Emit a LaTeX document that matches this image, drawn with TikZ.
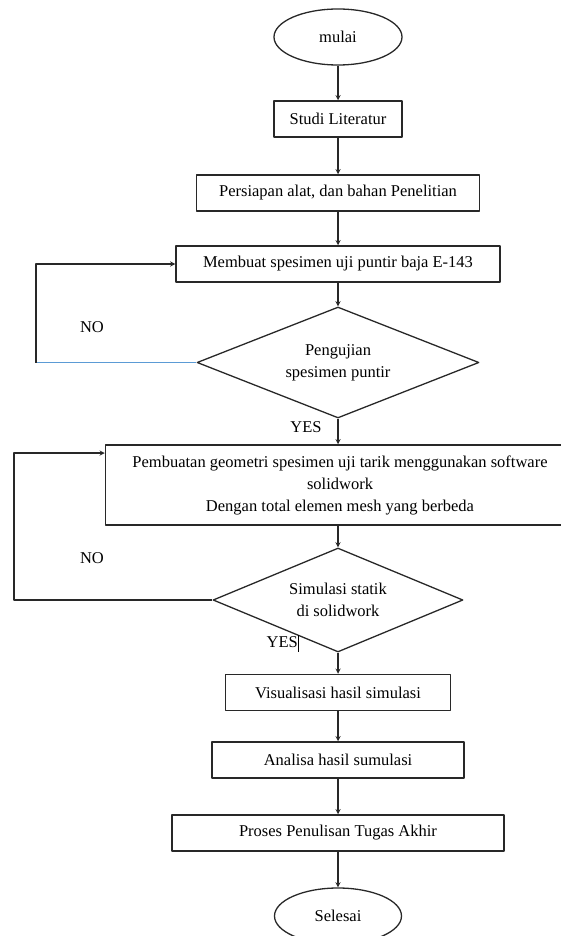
\documentclass[tikz,border=0pt]{standalone}
\usepackage{fontspec}
\setmainfont{Liberation Serif}
\usetikzlibrary{shapes.geometric}

\definecolor{garisbiru}{RGB}{91,155,213}
\definecolor{garis}{RGB}{40,40,40}

\tikzset{
  terminal/.style={ellipse, draw=garis, line width=1.3pt, minimum width=128, minimum height=56, inner sep=0pt},
  proses/.style={rectangle, draw=garis, line width=1.5pt, minimum height=36, inner sep=2pt},
  keputusan/.style={diamond, draw=garis, line width=1.3pt, aspect=2.5, inner sep=0pt, align=center},
  panah/.style={->, draw=garis, line width=1.3pt},
}

\begin{document}
\begin{tikzpicture}[x=1pt, y=-1pt, >=stealth, line join=round,
  every node/.style={font=\fontsize{16.5}{22}\selectfont}]
    % ukuran gambar
    \useasboundingbox (0,0) rectangle (561,936);

    % alur utama
    \node[terminal] (mulai) at (338,37) {mulai};
    \node[proses, minimum width=128] (studi) at (338,119) {Studi Literatur};
    \node[proses, minimum width=283] (persiapan) at (338,193) {Persiapan alat, dan bahan Penelitian};
    \node[proses, minimum width=324] (membuat) at (338,264) {Membuat spesimen uji puntir baja E-143};
    \node[keputusan, minimum width=282, minimum height=111] (pengujian) at (338,362.5) {Pengujian\\spesimen puntir};
    \node[proses, minimum width=469, minimum height=80, align=center] (geometri) at (340,485)
        {Pembuatan geometri spesimen uji tarik menggunakan software\\solidwork\\Dengan total elemen mesh yang berbeda};
    \node[keputusan, minimum width=250, minimum height=104] (simulasi) at (338,600) {Simulasi statik\\di solidwork};
    \node[proses, minimum width=225] (visual) at (338,692.5) {Visualisasi hasil simulasi};
    \node[proses, minimum width=252] (analisa) at (338,760) {Analisa hasil sumulasi};
    \node[proses, minimum width=332] (penulisan) at (338,833) {Proses Penulisan Tugas Akhir};
    \node[terminal, minimum width=127] (selesai) at (338,916) {Selesai};

    % panah ke bawah
    \draw[panah] (mulai) -- (studi);
    \draw[panah] (studi) -- (persiapan);
    \draw[panah] (persiapan) -- (membuat);
    \draw[panah] (membuat) -- (pengujian);
    \draw[panah] (pengujian) -- (geometri.north -| pengujian);
    \draw[panah] (geometri.south -| simulasi) -- (simulasi);
    \draw[panah] (simulasi) -- (visual);
    \draw[panah] (visual) -- (analisa);
    \draw[panah] (analisa) -- (penulisan);
    \draw[panah] (penulisan) -- (selesai);

    % putaran NO pertama
    \coordinate (kiri1) at (36,362.5);
    \coordinate (atas1) at (36,264);
    \draw[garisbiru, line width=1pt] (pengujian.west) -- (kiri1);
    \draw[panah] (kiri1) -- (atas1) -- (membuat.west);

    % putaran NO kedua
    \coordinate (kiri2) at (14,600);
    \coordinate (atas2) at (14,453);
    \draw[panah] (simulasi.west) -- (kiri2) -- (atas2) -- (atas2 -| geometri.west);

    % label
    \node (no1) at (92,327) {NO};
    \node (yes1) at (306,427) {YES};
    \node (no2) at (92,558) {NO};
    \node (yes2) at (283,643) {YES\rule[-4pt]{1.5pt}{17pt}};
\end{tikzpicture}
\end{document}
